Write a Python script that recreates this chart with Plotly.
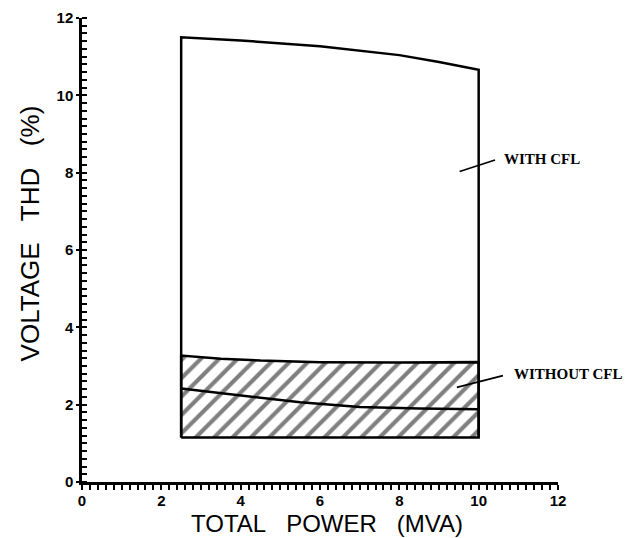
import plotly.graph_objects as go

# ---- data ----
power_with_top = [2.5, 4, 6, 8, 9, 10]
thd_with_top = [11.5, 11.42, 11.27, 11.04, 10.86, 10.66]

power_without_top = [2.5, 3.5, 4.5, 6, 8, 10]
thd_without_top = [3.27, 3.19, 3.14, 3.1, 3.09, 3.1]

power_mid = [2.5, 3.5, 4.5, 5.5, 7, 8.5, 10]
thd_mid = [2.42, 2.3, 2.18, 2.06, 1.94, 1.9, 1.88]

power_base = [2.5, 10]
thd_base = [1.15, 1.15]

tick_vals = [0, 2, 4, 6, 8, 10, 12]
tick_text = ["0", "2", "4", "6", "8", "10", "12"]

labels = ["WITH CFL", "WITHOUT CFL"]
label_x = [10.58, 10.83]
label_y = [8.36, 2.79]
leader_from_x = [9.52, 9.45]
leader_from_y = [8.03, 2.45]
leader_to_x = [10.45, 10.65]
leader_to_y = [8.34, 2.76]

x_title = "TOTAL\u00a0\u00a0 POWER\u00a0\u00a0 (MVA)"
y_title = "VOLTAGE\u00a0\u00a0 THD\u00a0\u00a0 (%)"

fig = go.Figure()

# hatched region (without CFL): bottom -> top curve
hx = [power_base[0]] + power_without_top + [power_base[-1], power_base[0]]
hy = [thd_base[0]] + thd_without_top + [thd_base[-1], thd_base[0]]
fig.add_trace(go.Scatter(
    x=hx, y=hy, mode="lines", fill="toself",
    fillcolor="white",
    fillpattern=dict(shape="/", size=13, solidity=0.32, fgcolor="black", bgcolor="white"),
    line=dict(color="black", width=2.5), hoverinfo="skip", showlegend=False))

# middle curve
fig.add_trace(go.Scatter(x=power_mid, y=thd_mid, mode="lines",
                         line=dict(color="black", width=2.5), showlegend=False))

# outer box (with CFL)
ox = [power_base[0]] + power_with_top + [power_base[-1]]
oy = [thd_base[0]] + thd_with_top + [thd_base[-1]]
fig.add_trace(go.Scatter(x=ox, y=oy, mode="lines",
                         line=dict(color="black", width=2.5), showlegend=False))

annotations = []
for t, lx, ly, fx, fy, tx, ty in zip(labels, label_x, label_y, leader_from_x, leader_from_y, leader_to_x, leader_to_y):
    annotations.append(dict(x=fx, y=fy, ax=tx, ay=ty, xref="x", yref="y", axref="x", ayref="y",
                            text="", showarrow=True, arrowhead=0, arrowwidth=1.8, arrowcolor="black"))
    annotations.append(dict(x=lx, y=ly, xref="x", yref="y", text=t, showarrow=False,
                            xanchor="left", yanchor="middle",
                            font=dict(family="Liberation Serif", size=15, color="black", weight="bold")))

annotations.append(dict(x=0.515, y=-0.089, xref="paper", yref="paper", text=x_title, showarrow=False,
                        xanchor="center", yanchor="middle",
                        font=dict(family="Liberation Sans", size=24, color="black")))
annotations.append(dict(x=-0.11, y=0.535, xref="paper", yref="paper", text=y_title, showarrow=False,
                        xanchor="center", yanchor="middle", textangle=-90,
                        font=dict(family="Liberation Sans", size=26, color="black")))

axis_common = dict(
    range=[0, 12], tickvals=tick_vals, ticktext=tick_text,
    showline=True, linecolor="black", linewidth=2.5,
    ticks="outside", ticklen=3, tickwidth=2, tickcolor="black",
    showgrid=False, zeroline=False, automargin=False,
    tickfont=dict(family="Liberation Sans", size=15, color="black", weight="bold"),
)

# page body has an 8px margin, so the figure is sized to fit the 637x538 window
fig.update_layout(
    width=629, height=530,
    margin=dict(l=74, r=79, t=10, b=56),
    plot_bgcolor="white", paper_bgcolor="white",
    xaxis=dict(**axis_common,
               minor=dict(dtick=0.2, ticks="outside", ticklen=5, tickwidth=1.5, tickcolor="black", showgrid=False)),
    yaxis=dict(**axis_common,
               minor=dict(dtick=0.2, ticks="inside", ticklen=5, tickwidth=1.5, tickcolor="black", showgrid=False)),
    annotations=annotations,
)

fig.write_html("out.html")
